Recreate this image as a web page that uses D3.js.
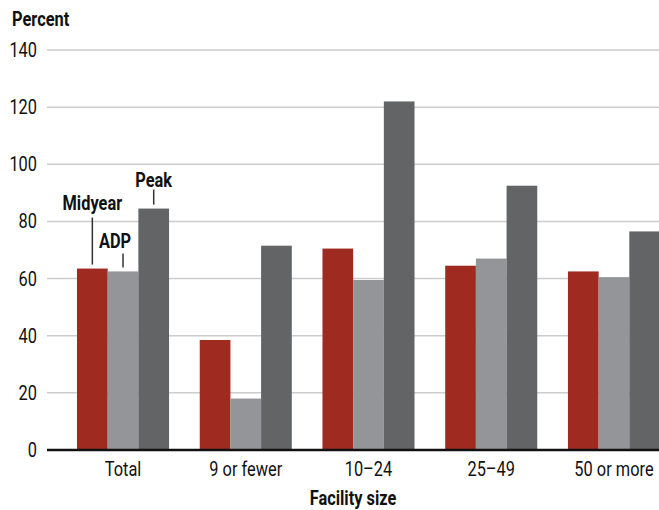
<!DOCTYPE html>
<html>
<head>
<meta charset="utf-8">
<script src="https://cdn.jsdelivr.net/npm/d3@7"></script>
<style>
  body { margin: 0; background: #fff; }
  svg text { font-family: Roboto, "DejaVu Sans", sans-serif; fill: #111; }
</style>
</head>
<body>
<svg id="chart" width="659" height="510"></svg>
<script>
// facility size groups and the three measures (percent)
const categories = ['Total', '9 or fewer', '10\u201324', '25\u201349', '50 or more'];
const seriesNames = ['Midyear', 'ADP', 'Peak'];
const midyear = [63.5, 38.5, 70.5, 64.5, 62.5];
const adp = [62.5, 18, 59.5, 67, 60.5];
const peak = [84.5, 71.5, 122, 92.5, 76.5];
const yTicks = [0, 20, 40, 60, 80, 100, 120, 140];

const colors = { Midyear: '#9e2a20', ADP: '#939598', Peak: '#636466' };
const squeeze = 0.78; // fake a condensed face

const svg = d3.select('#chart');

// positions text through a transform so it can be narrowed
function place(x, y) {
  return `translate(${x},${y}) scale(${squeeze},1)`;
}

// scales
const x = d3.scaleBand()
  .domain(categories)
  .range([77, 660])
  .paddingInner(0.25)
  .paddingOuter(0);

const xInner = d3.scaleBand()
  .domain(seriesNames)
  .range([0, x.bandwidth()]);

const y = d3.scaleLinear()
  .domain([0, 140])
  .range([450, 50]);

// gridlines
svg.append('g')
  .selectAll('line')
  .data(yTicks.filter(d => d > 0))
  .join('line')
  .attr('x1', 47)
  .attr('x2', 659)
  .attr('y1', d => y(d))
  .attr('y2', d => y(d))
  .attr('stroke', '#cccccc')
  .attr('stroke-width', 1.5);

// y tick labels
svg.append('g')
  .selectAll('text')
  .data(yTicks)
  .join('text')
  .attr('transform', d => place(37, y(d) + 7))
  .attr('text-anchor', 'end')
  .attr('font-size', 21)
  .text(d => d);

// bars
const rows = categories.map((c, i) => ({
  cat: c,
  values: [
    { key: 'Midyear', value: midyear[i] },
    { key: 'ADP', value: adp[i] },
    { key: 'Peak', value: peak[i] }
  ]
}));

svg.append('g')
  .selectAll('g')
  .data(rows)
  .join('g')
  .attr('transform', d => `translate(${x(d.cat)},0)`)
  .selectAll('rect')
  .data(d => d.values)
  .join('rect')
  .attr('x', d => xInner(d.key))
  .attr('width', xInner.bandwidth())
  .attr('y', d => y(d.value))
  .attr('height', d => y(0) - y(d.value))
  .attr('fill', d => colors[d.key]);

// baseline
svg.append('line')
  .attr('x1', 47)
  .attr('x2', 659)
  .attr('y1', y(0))
  .attr('y2', y(0))
  .attr('stroke', '#111')
  .attr('stroke-width', 2.5);

// x labels
svg.append('g')
  .selectAll('text')
  .data(categories)
  .join('text')
  .attr('transform', d => place(x(d) + x.bandwidth() / 2, 476))
  .attr('text-anchor', 'middle')
  .attr('font-size', 21)
  .text(d => d);

// axis titles
svg.append('text')
  .attr('transform', place(12, 26))
  .attr('font-size', 21)
  .attr('font-weight', 'bold')
  .text('Percent');

svg.append('text')
  .attr('transform', place((47 + 659) / 2, 505))
  .attr('text-anchor', 'middle')
  .attr('font-size', 21)
  .attr('font-weight', 'bold')
  .text('Facility size');

// series labels on the first group, with leader lines
const callouts = [
  { key: 'Midyear', value: midyear[0], len: 47, gap: 8, dx: 0 },
  { key: 'ADP', value: adp[0], len: 14, gap: 5, dx: -8 },
  { key: 'Peak', value: peak[0], len: 15, gap: 3, dx: 0 }
];
const labelG = svg.append('g');
callouts.forEach(c => {
  const cx = x(categories[0]) + xInner(c.key) + xInner.bandwidth() / 2;
  const top = y(c.value) - 4;
  labelG.append('line')
    .attr('x1', cx).attr('x2', cx)
    .attr('y1', top).attr('y2', top - c.len)
    .attr('stroke', '#333')
    .attr('stroke-width', 1.5);
  labelG.append('text')
    .attr('transform', place(cx + c.dx, top - c.len - c.gap))
    .attr('text-anchor', 'middle')
    .attr('font-size', 21)
    .attr('font-weight', 'bold')
    .text(c.key);
});
</script>
</body>
</html>
